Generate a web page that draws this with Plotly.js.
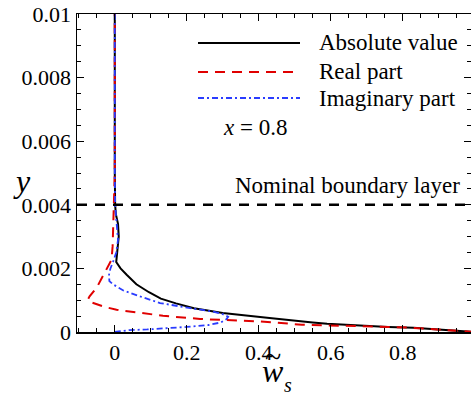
<!DOCTYPE html>
<html>
<head>
<meta charset="utf-8">
<script src="https://cdn.plot.ly/plotly-3.0.1.min.js"></script>
<style>
html,body{margin:0;padding:0;background:#fff;}
#chart{width:471px;height:396px;}
</style>
</head>
<body>
<div id="chart"></div>
<script>
// ---- data (w_s values vs wall-normal y) ----
const absY = [0, 0.00004, 0.00008, 0.00013, 0.00016, 0.0002, 0.00026, 0.0003, 0.00035, 0.00044, 0.0006, 0.00075, 0.0009, 0.00105, 0.00125, 0.0015, 0.0018, 0.002, 0.0022, 0.0026, 0.003, 0.0034, 0.0037, 0.004, 0.005, 0.01];
const absW = [1.0, 0.95, 0.9, 0.83, 0.76, 0.68, 0.59, 0.55, 0.5, 0.43, 0.3, 0.22, 0.17, 0.128, 0.095, 0.06, 0.033, 0.016, 0.004, 0.008, 0.011, 0.009, 0.003, 0.001, 0, 0];

const realY = [0, 0.00004, 0.00008, 0.00013, 0.00016, 0.0002, 0.00023, 0.00033, 0.00037, 0.00041, 0.00051, 0.0006, 0.0007, 0.00078, 0.00086, 0.00095, 0.00102, 0.00112, 0.0014, 0.00175, 0.002, 0.00227, 0.0027, 0.0031, 0.0035, 0.004, 0.005, 0.01];
const realW = [1.0, 0.95, 0.9, 0.83, 0.76, 0.58, 0.52, 0.405, 0.31, 0.237, 0.134, 0.07, 0.005, -0.025, -0.047, -0.07, -0.075, -0.07, -0.05, -0.033, -0.02, -0.009, -0.006, -0.005, -0.004, -0.001, 0, 0];

const imagY = [0, 0.00006, 0.00008, 0.00012, 0.00016, 0.00022, 0.0003, 0.0004, 0.00048, 0.00056, 0.00065, 0.00075, 0.00091, 0.00112, 0.0013, 0.0015, 0.0016, 0.0018, 0.002, 0.0022, 0.0025, 0.0029, 0.0033, 0.0037, 0.004, 0.005, 0.01];
const imagW = [0, 0.04, 0.09, 0.15, 0.2, 0.26, 0.295, 0.31, 0.315, 0.3, 0.27, 0.21, 0.126, 0.07, 0.025, -0.005, -0.015, -0.016, -0.012, -0.005, 0.004, 0.009, 0.007, 0.003, 0.001, 0, 0];

const seriesNames = ["Absolute value", "Real part", "Imaginary part"];
const boundaryY = 0.004;
const boundaryLabel = "Nominal boundary layer";
const stationLabel = "<i>x</i> = 0.8";
const xTickVals = [0, 0.2, 0.4, 0.6, 0.8];
const xTickText = ["0", "0.2", "0.4", "0.6", "0.8"];
const yTickVals = [0, 0.002, 0.004, 0.006, 0.008, 0.01];
const yTickText = ["0", "0.002", "0.004", "0.006", "0.008", "0.01"];

// ---- layout helpers ----
const W = 471, H = 396;
const M = {l: 77, r: 0, t: 14, b: 64};
const PW = W - M.l - M.r, PH = H - M.t - M.b;
const px = x => (x - M.l) / PW;
const py = y => (H - M.b - y) / PH;

const FONT = "Liberation Serif";
const styles = [
  {color: "#000000", width: 2, dash: "solid"},
  {color: "#e00000", width: 2, dash: "10px,7px"},
  {color: "#2a3cff", width: 1.8, dash: "6px,3px,2px,3px"}
];

const traces = [
  {x: absW, y: absY, mode: "lines", line: styles[0], name: seriesNames[0], showlegend: false},
  {x: realW, y: realY, mode: "lines", line: styles[1], name: seriesNames[1], showlegend: false},
  {x: imagW, y: imagY, mode: "lines", line: styles[2], name: seriesNames[2], showlegend: false}
];

const legendRows = [43, 72, 98];
const shapes = [
  {type: "line", xref: "paper", yref: "y", x0: 0, x1: 1, y0: boundaryY, y1: boundaryY,
   line: {color: "#000", width: 2.5, dash: "10px,8px"}}
];
const annotations = [];
const txt = (x, y, text, size, anchor) => ({xref: "paper", yref: "paper", x: px(x), y: py(y),
  xanchor: anchor || "center", yanchor: "middle", text: text, showarrow: false,
  font: {family: FONT, size: size, color: "#000"}});
seriesNames.forEach((n, i) => {
  shapes.push({type: "line", xref: "paper", yref: "paper", x0: px(198), x1: px(300),
    y0: py(legendRows[i]), y1: py(legendRows[i]), line: styles[i]});
  annotations.push(txt(317, legendRows[i], n, 23, "left"));
});
annotations.push(txt(255, 127, stationLabel, 23));
annotations.push(txt(347, 185, boundaryLabel, 23));
annotations.push(txt(22, 181, "<i>y</i>", 32));
annotations.push(txt(273, 371, "<i>w</i>", 32));
annotations.push(txt(288, 385, "<i>s</i>", 20));
annotations.push(txt(273, 356, "~", 30));

const axisCommon = {
  showgrid: false, zeroline: false, showline: true, linecolor: "#000", linewidth: 1.5,
  mirror: "allticks", ticks: "inside", ticklen: 7, tickwidth: 1.2, tickcolor: "#000",
  tickfont: {family: FONT, size: 22, color: "#000"}
};

const layout = {
  width: W, height: H, margin: M, paper_bgcolor: "#fff", plot_bgcolor: "#fff",
  font: {family: FONT},
  showlegend: false,
  xaxis: Object.assign({}, axisCommon, {range: [-0.105, 0.99], tickmode: "array", tickvals: xTickVals, ticktext: xTickText,
    minor: {dtick: 0.05, tick0: 0, ticks: "inside", ticklen: 4, tickcolor: "#000", tickwidth: 1}}),
  yaxis: Object.assign({}, axisCommon, {range: [0, 0.01], tickmode: "array", tickvals: yTickVals, ticktext: yTickText,
    minor: {dtick: 0.0005, tick0: 0, ticks: "inside", ticklen: 4, tickcolor: "#000", tickwidth: 1}}),
  shapes: shapes, annotations: annotations
};

Plotly.newPlot("chart", traces, layout, {staticPlot: true, displayModeBar: false});
</script>
</body>
</html>
